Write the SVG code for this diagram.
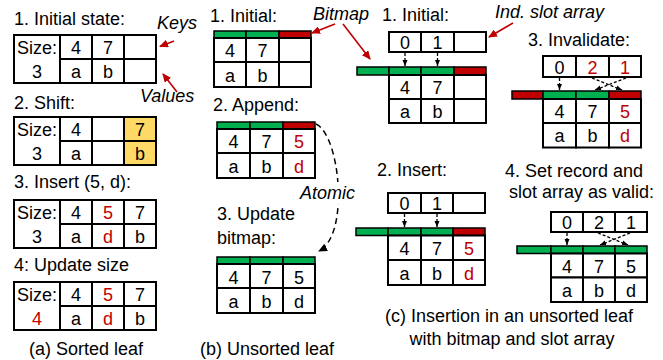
<svg xmlns="http://www.w3.org/2000/svg" width="663" height="360" viewBox="0 0 663 360">
<defs>
<marker id="ra" markerWidth="9" markerHeight="8" refX="8" refY="4" orient="auto" markerUnits="userSpaceOnUse"><path d="M0,0 L9,4 L0,8 z" fill="#c00000"/></marker>
<marker id="ka" markerWidth="6" markerHeight="6" refX="6" refY="3" orient="auto" markerUnits="userSpaceOnUse"><path d="M0,0.5 L6,3 L0,5.5 z" fill="#000"/></marker>
<marker id="kb" markerWidth="9" markerHeight="8" refX="8" refY="4" orient="auto" markerUnits="userSpaceOnUse"><path d="M0,0 L9,4 L0,8 z" fill="#000"/></marker>
</defs>
<style>
text{font-family:"Liberation Sans",Arial,sans-serif;font-size:18px;fill:#000}
.c{text-anchor:middle}
.i{font-style:italic}
.rt{fill:#c00000}
.cell{fill:#fff;stroke:#000;stroke-width:2}
.y{fill:#ffd966;stroke:#000;stroke-width:2}
.g{fill:#00b050;stroke:#000;stroke-width:1.5}
.r{fill:#c00000;stroke:#000;stroke-width:1.5}
.ra{stroke:#c00000;stroke-width:1.6;fill:none;marker-end:url(#ra)}
.da{stroke:#000;stroke-width:1.3;stroke-dasharray:3 2;fill:none;marker-end:url(#ka)}
.dc{stroke:#000;stroke-width:1.5;stroke-dasharray:6 4;fill:none;marker-end:url(#kb)}
</style>

<!-- (a) Sorted leaf -->
<g id="a-labels">
<text x="14" y="25">1. Initial state:</text>
<text x="14" y="109">2. Shift:</text>
<text x="14" y="188">3. Insert (5, d):</text>
<text x="14" y="271">4: Update size</text>
<text x="29" y="355">(a) Sorted leaf</text>
<text class="i" x="157" y="29">Keys</text>
<text class="i" x="140" y="102">Values</text>
</g>
<g id="a1">
<rect class="cell" x="14" y="35" width="46" height="48"/>
<rect class="cell" x="60" y="35" width="32" height="24"/><rect class="cell" x="92" y="35" width="32" height="24"/><rect class="cell" x="124" y="35" width="32" height="24"/>
<rect class="cell" x="60" y="59" width="32" height="24"/><rect class="cell" x="92" y="59" width="32" height="24"/><rect class="cell" x="124" y="59" width="32" height="24"/>
<text class="c" x="37" y="54">Size:</text><text class="c" x="37" y="78">3</text>
<text class="c" x="76" y="54">4</text><text class="c" x="108" y="54">7</text>
<text class="c" x="76" y="78">a</text><text class="c" x="108" y="78">b</text>
</g>
<g id="a2">
<rect class="cell" x="14" y="117" width="46" height="48"/>
<rect class="cell" x="60" y="117" width="32" height="24"/><rect class="cell" x="92" y="117" width="32" height="24"/><rect class="y" x="124" y="117" width="32" height="24"/>
<rect class="cell" x="60" y="141" width="32" height="24"/><rect class="cell" x="92" y="141" width="32" height="24"/><rect class="y" x="124" y="141" width="32" height="24"/>
<text class="c" x="37" y="136">Size:</text><text class="c" x="37" y="160">3</text>
<text class="c" x="76" y="136">4</text><text class="c" x="140" y="136">7</text>
<text class="c" x="76" y="160">a</text><text class="c" x="140" y="160">b</text>
</g>
<g id="a3">
<rect class="cell" x="14" y="200" width="46" height="48"/>
<rect class="cell" x="60" y="200" width="32" height="24"/><rect class="cell" x="92" y="200" width="32" height="24"/><rect class="cell" x="124" y="200" width="32" height="24"/>
<rect class="cell" x="60" y="224" width="32" height="24"/><rect class="cell" x="92" y="224" width="32" height="24"/><rect class="cell" x="124" y="224" width="32" height="24"/>
<text class="c" x="37" y="219">Size:</text><text class="c" x="37" y="243">3</text>
<text class="c" x="76" y="219">4</text><text class="c rt" x="108" y="219">5</text><text class="c" x="140" y="219">7</text>
<text class="c" x="76" y="243">a</text><text class="c rt" x="108" y="243">d</text><text class="c" x="140" y="243">b</text>
</g>
<g id="a4">
<rect class="cell" x="14" y="282" width="46" height="48"/>
<rect class="cell" x="60" y="282" width="32" height="24"/><rect class="cell" x="92" y="282" width="32" height="24"/><rect class="cell" x="124" y="282" width="32" height="24"/>
<rect class="cell" x="60" y="306" width="32" height="24"/><rect class="cell" x="92" y="306" width="32" height="24"/><rect class="cell" x="124" y="306" width="32" height="24"/>
<text class="c" x="37" y="301">Size:</text><text class="c rt" x="37" y="325">4</text>
<text class="c" x="76" y="301">4</text><text class="c rt" x="108" y="301">5</text><text class="c" x="140" y="301">7</text>
<text class="c" x="76" y="325">a</text><text class="c rt" x="108" y="325">d</text><text class="c" x="140" y="325">b</text>
</g>

<!-- (b) Unsorted leaf -->
<g id="b-labels">
<text x="210" y="22">1. Initial:</text>
<text x="213" y="111">2. Append:</text>
<text x="217" y="220">3. Update</text>
<text x="217" y="244">bitmap:</text>
<text x="200" y="355">(b) Unsorted leaf</text>
<text class="i" x="313" y="20">Bitmap</text>
</g>
<g id="b1">
<rect class="g" x="214" y="31" width="32" height="7"/><rect class="g" x="246" y="31" width="33" height="7"/><rect class="r" x="279" y="31" width="32" height="7"/>
<rect class="cell" x="214" y="38" width="32" height="24"/><rect class="cell" x="246" y="38" width="33" height="24"/><rect class="cell" x="279" y="38" width="32" height="24"/>
<rect class="cell" x="214" y="62" width="32" height="25"/><rect class="cell" x="246" y="62" width="33" height="25"/><rect class="cell" x="279" y="62" width="32" height="25"/>
<text class="c" x="230" y="57">4</text><text class="c" x="262.5" y="57">7</text>
<text class="c" x="230" y="81.5">a</text><text class="c" x="262.5" y="81.5">b</text>
</g>
<g id="b2">
<rect class="g" x="217" y="122" width="33" height="7"/><rect class="g" x="250" y="122" width="33" height="7"/><rect class="r" x="283" y="122" width="32" height="7"/>
<rect class="cell" x="217" y="129" width="33" height="24"/><rect class="cell" x="250" y="129" width="33" height="24"/><rect class="cell" x="283" y="129" width="32" height="24"/>
<rect class="cell" x="217" y="153" width="33" height="25"/><rect class="cell" x="250" y="153" width="33" height="25"/><rect class="cell" x="283" y="153" width="32" height="25"/>
<text class="c" x="233.5" y="148">4</text><text class="c" x="266.5" y="148">7</text><text class="c rt" x="299" y="148">5</text>
<text class="c" x="233.5" y="172.5">a</text><text class="c" x="266.5" y="172.5">b</text><text class="c rt" x="299" y="172.5">d</text>
</g>
<g id="b3">
<rect class="g" x="217" y="257" width="33" height="7"/><rect class="g" x="250" y="257" width="33" height="7"/><rect class="g" x="283" y="257" width="32" height="7"/>
<rect class="cell" x="217" y="264" width="33" height="24"/><rect class="cell" x="250" y="264" width="33" height="24"/><rect class="cell" x="283" y="264" width="32" height="24"/>
<rect class="cell" x="217" y="288" width="33" height="25"/><rect class="cell" x="250" y="288" width="33" height="25"/><rect class="cell" x="283" y="288" width="32" height="25"/>
<text class="c" x="233.5" y="283.5">4</text><text class="c" x="266.5" y="283.5">7</text><text class="c" x="299" y="283.5">5</text>
<text class="c" x="233.5" y="308">a</text><text class="c" x="266.5" y="308">b</text><text class="c" x="299" y="308">d</text>
</g>

<!-- (c) Insertion with bitmap and slot array -->
<g id="c-labels">
<text x="382" y="21">1. Initial:</text>
<text class="i" x="495" y="18">Ind. slot array</text>
<text x="377" y="176">2. Insert:</text>
<text x="528" y="46">3. Invalidate:</text>
<text x="505" y="177">4. Set record and</text>
<text x="509" y="198">slot array as valid:</text>
<text class="c" x="509" y="322">(c) Insertion in an unsorted leaf</text>
<text class="c" x="512" y="345">with bitmap and slot array</text>
</g>
<g id="c1">
<rect class="cell" x="389" y="32" width="32" height="20"/><rect class="cell" x="421" y="32" width="33" height="20"/><rect class="cell" x="454" y="32" width="32" height="20"/>
<text class="c" x="405" y="49">0</text><text class="c" x="437.5" y="49">1</text>
<rect class="g" x="357" y="67" width="32" height="8"/><rect class="g" x="389" y="67" width="32" height="8"/><rect class="g" x="421" y="67" width="33" height="8"/><rect class="r" x="454" y="67" width="32" height="8"/>
<rect class="cell" x="389" y="75" width="32" height="24"/><rect class="cell" x="421" y="75" width="33" height="24"/><rect class="cell" x="454" y="75" width="32" height="24"/>
<rect class="cell" x="389" y="99" width="32" height="24"/><rect class="cell" x="421" y="99" width="33" height="24"/><rect class="cell" x="454" y="99" width="32" height="24"/>
<text class="c" x="405" y="94">4</text><text class="c" x="437.5" y="94">7</text>
<text class="c" x="405" y="118">a</text><text class="c" x="437.5" y="118">b</text>
</g>
<g id="c2">
<rect class="cell" x="388" y="193" width="33" height="20"/><rect class="cell" x="421" y="193" width="32" height="20"/><rect class="cell" x="453" y="193" width="32" height="20"/>
<text class="c" x="404.5" y="210">0</text><text class="c" x="437" y="210">1</text>
<rect class="g" x="356" y="228" width="32" height="7.5"/><rect class="g" x="388" y="228" width="33" height="7.5"/><rect class="g" x="421" y="228" width="32" height="7.5"/><rect class="r" x="453" y="228" width="32" height="7.5"/>
<rect class="cell" x="388" y="235.5" width="33" height="24.5"/><rect class="cell" x="421" y="235.5" width="32" height="24.5"/><rect class="cell" x="453" y="235.5" width="32" height="24.5"/>
<rect class="cell" x="388" y="260" width="33" height="25"/><rect class="cell" x="421" y="260" width="32" height="25"/><rect class="cell" x="453" y="260" width="32" height="25"/>
<text class="c" x="404.5" y="255">4</text><text class="c" x="437" y="255">7</text><text class="c rt" x="469" y="255">5</text>
<text class="c" x="404.5" y="279.5">a</text><text class="c" x="437" y="279.5">b</text><text class="c rt" x="469" y="279.5">d</text>
</g>
<g id="c3">
<rect class="cell" x="543" y="56" width="33" height="21"/><rect class="cell" x="576" y="56" width="33" height="21"/><rect class="cell" x="609" y="56" width="32" height="21"/>
<text class="c" x="559.5" y="73.5">0</text><text class="c rt" x="592.5" y="73.5">2</text><text class="c rt" x="625" y="73.5">1</text>
<rect class="r" x="512" y="91" width="31" height="8"/><rect class="g" x="543" y="91" width="33" height="8"/><rect class="g" x="576" y="91" width="33" height="8"/><rect class="r" x="609" y="91" width="32" height="8"/>
<rect class="cell" x="543" y="99" width="33" height="24"/><rect class="cell" x="576" y="99" width="33" height="24"/><rect class="cell" x="609" y="99" width="32" height="24"/>
<rect class="cell" x="543" y="123" width="33" height="24.5"/><rect class="cell" x="576" y="123" width="33" height="24.5"/><rect class="cell" x="609" y="123" width="32" height="24.5"/>
<text class="c" x="559.5" y="118">4</text><text class="c" x="592.5" y="118">7</text><text class="c rt" x="625" y="118">5</text>
<text class="c" x="559.5" y="142">a</text><text class="c" x="592.5" y="142">b</text><text class="c rt" x="625" y="142">d</text>
</g>
<g id="c4">
<rect class="cell" x="551" y="212" width="32" height="20"/><rect class="cell" x="583" y="212" width="32" height="20"/><rect class="cell" x="615" y="212" width="32" height="20"/>
<text class="c" x="567" y="229">0</text><text class="c" x="599" y="229">2</text><text class="c" x="631" y="229">1</text>
<rect class="g" x="517" y="246" width="34" height="7.5"/><rect class="g" x="551" y="246" width="32" height="7.5"/><rect class="g" x="583" y="246" width="32" height="7.5"/><rect class="g" x="615" y="246" width="32" height="7.5"/>
<rect class="cell" x="551" y="253.5" width="32" height="24"/><rect class="cell" x="583" y="253.5" width="32" height="24"/><rect class="cell" x="615" y="253.5" width="32" height="24"/>
<rect class="cell" x="551" y="277.5" width="32" height="24.5"/><rect class="cell" x="583" y="277.5" width="32" height="24.5"/><rect class="cell" x="615" y="277.5" width="32" height="24.5"/>
<text class="c" x="567" y="272.5">4</text><text class="c" x="599" y="272.5">7</text><text class="c" x="631" y="272.5">5</text>
<text class="c" x="567" y="297">a</text><text class="c" x="599" y="297">b</text><text class="c" x="631" y="297">d</text>
</g>

<g id="connectors">
<line class="ra" x1="174" y1="41" x2="160" y2="46.5"/>
<line class="ra" x1="177" y1="92" x2="163" y2="74"/>
<line class="ra" x1="335" y1="24" x2="312" y2="33"/>
<line class="ra" x1="343" y1="24" x2="370" y2="59"/>
<line class="ra" x1="513" y1="23" x2="489" y2="37"/>
<line class="da" x1="405" y1="53" x2="405" y2="66"/>
<line class="da" x1="437.5" y1="53" x2="437.5" y2="66"/>
<line class="da" x1="404.5" y1="214" x2="404.5" y2="227"/>
<line class="da" x1="437" y1="214" x2="437" y2="227"/>
<line class="da" x1="559.5" y1="78" x2="559.5" y2="90"/>
<line class="da" x1="592" y1="78" x2="622" y2="90"/>
<line class="da" x1="626" y1="78" x2="595" y2="90"/>
<line class="da" x1="567" y1="233" x2="567" y2="245"/>
<line class="da" x1="598" y1="233" x2="628" y2="245"/>
<line class="da" x1="630" y1="233" x2="600" y2="245"/>
<path class="dc" d="M316,124 C340,135 350,235 319,251"/>
<rect x="298" y="182" width="56" height="22" fill="#fff"/>
<text class="i" x="300" y="199">Atomic</text>
</g>
</svg>
